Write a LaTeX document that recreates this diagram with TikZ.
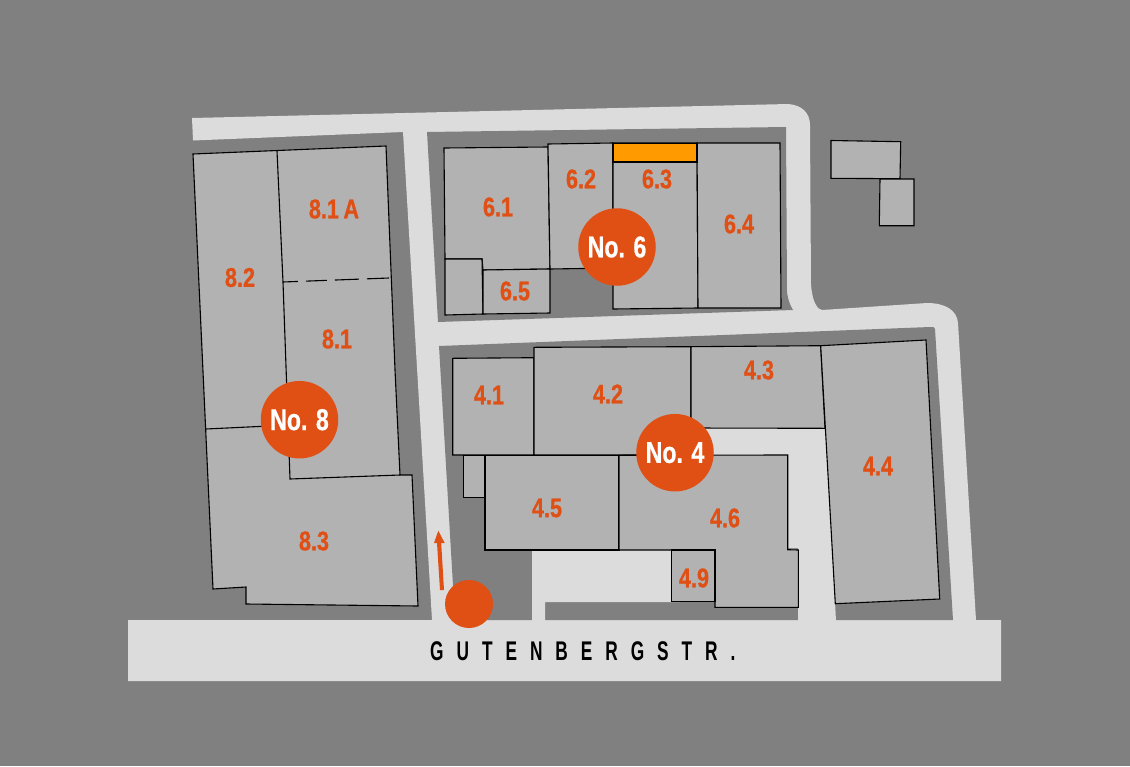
\documentclass[tikz,border=0pt]{standalone}
\usepackage{fontspec}
\setmainfont{Liberation Sans}
\newfontfamily\unitfont[FakeStretch=0.8,FakeBold=0.7,UprightFont={* Bold}]{Liberation Sans}
\newfontfamily\housefont[FakeStretch=0.77,FakeBold=0.7,UprightFont={* Bold}]{Liberation Sans}
\newfontfamily\streetfont[FakeStretch=0.64,LetterSpace=48,UprightFont={* Bold}]{Liberation Sans}
\definecolor{ground}{HTML}{808080}
\definecolor{road}{HTML}{DCDCDC}
\definecolor{building}{HTML}{B2B2B2}
\definecolor{signal}{HTML}{E04F14}
\definecolor{amber}{HTML}{FF9A00}
\tikzset{
  hall/.style={fill=building, draw=black, line width=1.1pt, line join=miter},
  unitlabel/.style={text=signal, font=\unitfont\fontsize{27}{27}\selectfont},
  houselabel/.style={circle, minimum size=77.5pt, fill=signal, text=white, font=\housefont\fontsize{30}{30}\selectfont}
}
\begin{document}
\begin{tikzpicture}
[x=1pt, y=-1pt, every node/.style={inner sep=0pt}]
\fill [ground] (0,0) rectangle (1130,766);
\useasboundingbox (0,0) rectangle (1130,766);
% roads
\fill [road] (192,118) -- (788,104) .. controls (802,105) and (810,113) .. (810,125) -- (811,285) .. controls (812,296) and (814,303) .. (818,308) -- (822,310) -- (927,303) .. controls (945,303) and (957,310) .. (958,323) -- (976,620) -- (1001,620) -- (1001,681) -- (128,681) -- (128,620) -- (432,620) -- (403,132) -- (193,140.5) -- cycle;
% blocks
\fill [ground] (427,132) -- (786,127) -- (787,292) .. controls (788,300) and (790,305) .. (793,310) -- (438,322) -- cycle;
\fill [ground] (439,346) -- (930,327) .. controls (933,327) and (935,327) .. (935,329) -- (953,620) -- (455,620) -- cycle;
% yards
\fill [road] (700,428) -- (826,428) -- (836,621) -- (798,621) -- (798,548) -- (700,548) -- cycle;
\fill [road] (532,621) -- (545,621) -- (545,602) -- (680,602) -- (680,545) -- (532,545) -- cycle;
% no. 8
\draw [hall] (193,154) -- (386,146) -- (395,370) -- (400,475) -- (412,475) -- (418,606) -- (246,604) -- (246,587) -- (213,589) -- cycle;
\draw [line width=1.1pt] (277,151) -- (283,282) -- (290,479) -- (400,475);
\draw [line width=1.1pt] (206,429) -- (290,425);
\draw [line width=1.1pt, dash pattern=on 15pt off 8pt on 21pt off 8pt on 24pt off 8pt on 24pt off 8pt] (283,282) -- (389,278);
% no. 6
\draw [hall] (444,148) -- (548,147) -- (550,269) -- (483,270) -- (482,259) -- (445,259) -- cycle;
\draw [hall] (445,259) -- (482,259) -- (483,314) -- (445,315) -- cycle;
\draw [hall] (483,270) -- (550,269) -- (550,313) -- (483,314) -- cycle;
\draw [hall] (548,144) -- (613,143) -- (613,268) -- (550,269) -- cycle;
\draw [hall] (613,143) -- (697,143) -- (698,308) -- (613,309) -- cycle;
\draw [hall] (697,143) -- (780,143) -- (781,308) -- (698,308) -- cycle;
\draw [hall, fill=amber] (613,143.5) -- (697,143.5) -- (697,162) -- (613,162) -- cycle;
\draw [hall] (831,140.5) -- (900.7,141.7) -- (900,178.7) -- (831,178.3) -- cycle;
\draw [hall] (880,179) -- (914,179) -- (914,225.7) -- (879.3,225.7) -- cycle;
% no. 4
\draw [hall] (452.7,358.3) -- (534,357.7) -- (534,455) -- (452.7,455) -- cycle;
\draw [hall] (534,347.3) -- (691,346.7) -- (691,455) -- (534,455) -- cycle;
\draw [hall] (691,346.7) -- (820.7,345.7) -- (825,428.3) -- (691,428) -- cycle;
\draw [hall] (820.7,345.7) -- (926,340) -- (939.7,599) -- (835.3,603.7) -- cycle;
\draw [hall] (463.3,455.3) -- (485,455.3) -- (485,497.3) -- (463.3,497.3) -- cycle;
\draw [hall] (485,455.3) -- (619,455.3) -- (619,550) -- (485,550) -- cycle;
\draw [hall] (619,455.3) -- (787.7,455) -- (787.7,549.7) -- (798.3,550) -- (798.3,607.3) -- (715,607.3) -- (715,550) -- (619,550) -- cycle;
\draw [hall] (671.7,550) -- (715,550) -- (715,601.7) -- (671.7,601.7) -- cycle;
% labels
\node (u81a) [unitlabel] at (334,209) {8.1\,A};
\node (u82) [unitlabel] at (240,277.5) {8.2};
\node (u81) [unitlabel] at (337,339) {8.1};
\node (u83) [unitlabel] at (314,541) {8.3};
\node (u61) [unitlabel] at (498,207) {6.1};
\node (u62) [unitlabel] at (581,179) {6.2};
\node (u63) [unitlabel] at (657,179) {6.3};
\node (u64) [unitlabel] at (739,224) {6.4};
\node (u65) [unitlabel] at (515,291) {6.5};
\node (u41) [unitlabel] at (489,395) {4.1};
\node (u42) [unitlabel] at (608,394) {4.2};
\node (u43) [unitlabel] at (759,370) {4.3};
\node (u44) [unitlabel] at (878,466) {4.4};
\node (u45) [unitlabel] at (547,508) {4.5};
\node (u46) [unitlabel] at (725,518) {4.6};
\node (u49) [unitlabel] at (694,578) {4.9};
\node (no8) [houselabel] at (299.5,419.7) {No. 8};
\node (no6) [houselabel] at (617,247) {No. 6};
\node (no4) [houselabel] at (675,452.7) {No. 4};
\node (entry) [circle, minimum size=48pt, fill=signal] at (469,604) {};
% way in
\coordinate (wayto) at (438.3,530.7);
\fill [signal] (wayto) -- (444.7,543) -- (441.2,543) -- (444,590) -- (440,590) -- (437,543) -- (434,543) -- cycle;
\node (street) [anchor=west, font=\streetfont\fontsize{27}{27}\selectfont] at (430,651) {GUTENBERGSTR.};
\end{tikzpicture}
\end{document}
